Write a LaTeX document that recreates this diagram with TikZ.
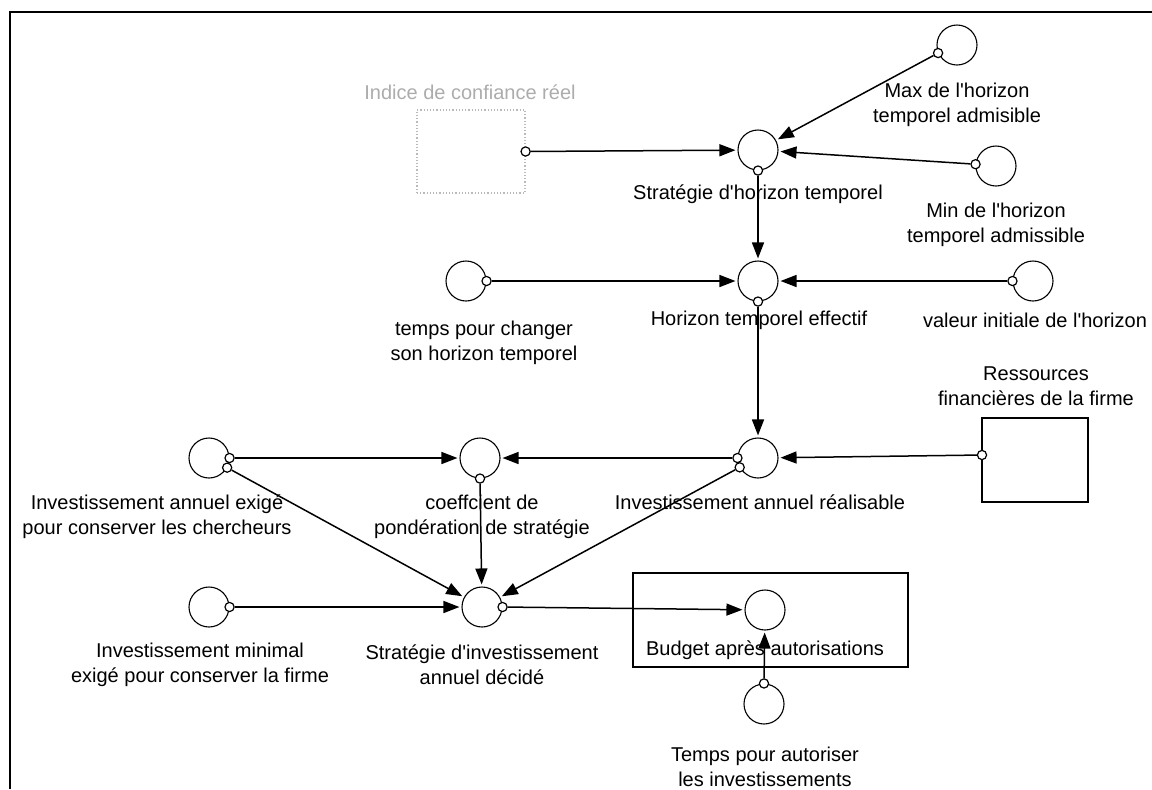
\documentclass[tikz,border=0pt]{standalone}
\usepackage{fontspec}
\setmainfont{Liberation Sans}[Ligatures=TeXOff]
\usetikzlibrary{arrows.meta}
\begin{document}
\begin{tikzpicture}[x=0.5pt,y=-0.5pt,
  var/.style={circle,draw,line width=0.55pt,minimum size=20pt,inner sep=0pt},
  port/.style={circle,draw,fill=white,line width=0.6pt,minimum size=4.6pt,inner sep=0pt},
  lbl/.style={font=\fontsize{10}{12.5}\selectfont,align=center,inner sep=0pt},
  link/.style={draw,line width=0.75pt,shorten >=1pt,-{Triangle[length=8pt,width=6pt]}},
  stock/.style={draw,line width=0.6pt,inner sep=0pt},
]
\useasboundingbox (0,0) rectangle (1152,789);
% outer frame (top and left edges)
\draw[line width=1pt] (10,789) -- (10,12) -- (1152,12);

% boxes
\node[stock,draw=gray!55,densely dotted,minimum width=54pt,minimum height=41.5pt] (ind) at (471,151.5) {};
\node[stock,minimum width=53pt,minimum height=42pt] (rf) at (1035,460) {};
\node[stock,minimum width=137.5pt,minimum height=47pt] (budbox) at (770.5,620) {};

% auxiliary variables
\node[var] (sht)  at (758,150) {};
\node[var] (max)  at (957,45)  {};
\node[var] (min)  at (996,166) {};
\node[var] (hte)  at (758,281) {};
\node[var] (tpc)  at (466,281) {};
\node[var] (val)  at (1033,281) {};
\node[var] (iar)  at (758,458) {};
\node[var] (coef) at (480,458) {};
\node[var] (iae)  at (209,458) {};
\node[var] (sia)  at (482,607) {};
\node[var] (imin) at (209,607) {};
\node[var] (bud)  at (765,610) {};
\node[var] (tpa)  at (764,704) {};

% output ports
\node[port] (p-ind)  at (ind.east) {};
\node[port] (p-max)  at (max.203) {};
\node[port] (p-min)  at (min.175) {};
\node[port] (p-sht)  at (sht.south) {};
\node[port] (p-tpc)  at (tpc.east) {};
\node[port] (p-val)  at (val.west) {};
\node[port] (p-hte)  at (hte.south) {};
\node[port] (p-rf)   at (982,455) {};
\node[port] (p-iar1) at (iar.180) {};
\node[port] (p-iar2) at (iar.207) {};
\node[port] (p-iae1) at (iae.0) {};
\node[port] (p-iae2) at (iae.-28) {};
\node[port] (p-coef) at (coef.south) {};
\node[port] (p-sia)  at (sia.east) {};
\node[port] (p-imin) at (imin.east) {};
\node[port] (p-tpa)  at (tpa.north) {};

% links
\draw[link] (p-ind) -- (sht);
\draw[link] (p-max) -- (sht);
\draw[link] (p-min) -- (sht);
\draw[link] (p-sht) -- (hte);
\draw[link] (p-tpc) -- (hte);
\draw[link] (p-val) -- (hte);
\draw[link] (p-hte) -- (iar);
\draw[link] (p-rf) -- (iar);
\draw[link] (p-iae1) -- (coef);
\draw[link] (p-iar1) -- (coef);
\draw[link] (p-iae2) -- (sia);
\draw[link] (p-coef) -- (sia);
\draw[link] (p-iar2) -- (sia);
\draw[link] (p-imin) -- (sia);
\draw[link] (p-sia) -- (bud);
\draw[link] (p-tpa) -- (bud);

% labels
\node[lbl,text=gray!65] (ind-l) at (470,92) {Indice de confiance réel};
\node[lbl] (max-l)  at (957,105) {Max de l'horizon\\temporel admisible};
\node[lbl] (min-l)  at (996,225) {Min de l'horizon\\temporel admissible};
\node[lbl] (sht-l)  at (758,194) {Stratégie d'horizon temporel};
\node[lbl] (tpc-l)  at (484,343) {temps pour changer\\son horizon temporel};
\node[lbl] (hte-l)  at (759,320) {Horizon temporel effectif};
\node[lbl] (val-l)  at (1035,320) {valeur initiale de l'horizon};
\node[lbl] (rf-l)   at (1036,386) {Ressources\\financières de la firme};
\node[lbl] (iae-l)  at (157,517) {Investissement annuel exigé\\pour conserver les chercheurs};
\node[lbl] (coef-l) at (482,517) {coeffcient de\\pondération de stratégie};
\node[lbl] (iar-l)  at (760,502) {Investissement annuel réalisable};
\node[lbl] (imin-l) at (200,665) {Investissement minimal\\exigé pour conserver la firme};
\node[lbl] (sia-l)  at (482,665) {Stratégie d'investissement\\annuel décidé};
\node[lbl] (bud-l)  at (765,650) {Budget après autorisations};
\node[lbl] (tpa-l)  at (765,767) {Temps pour autoriser\\les investissements};
\end{tikzpicture}
\end{document}
